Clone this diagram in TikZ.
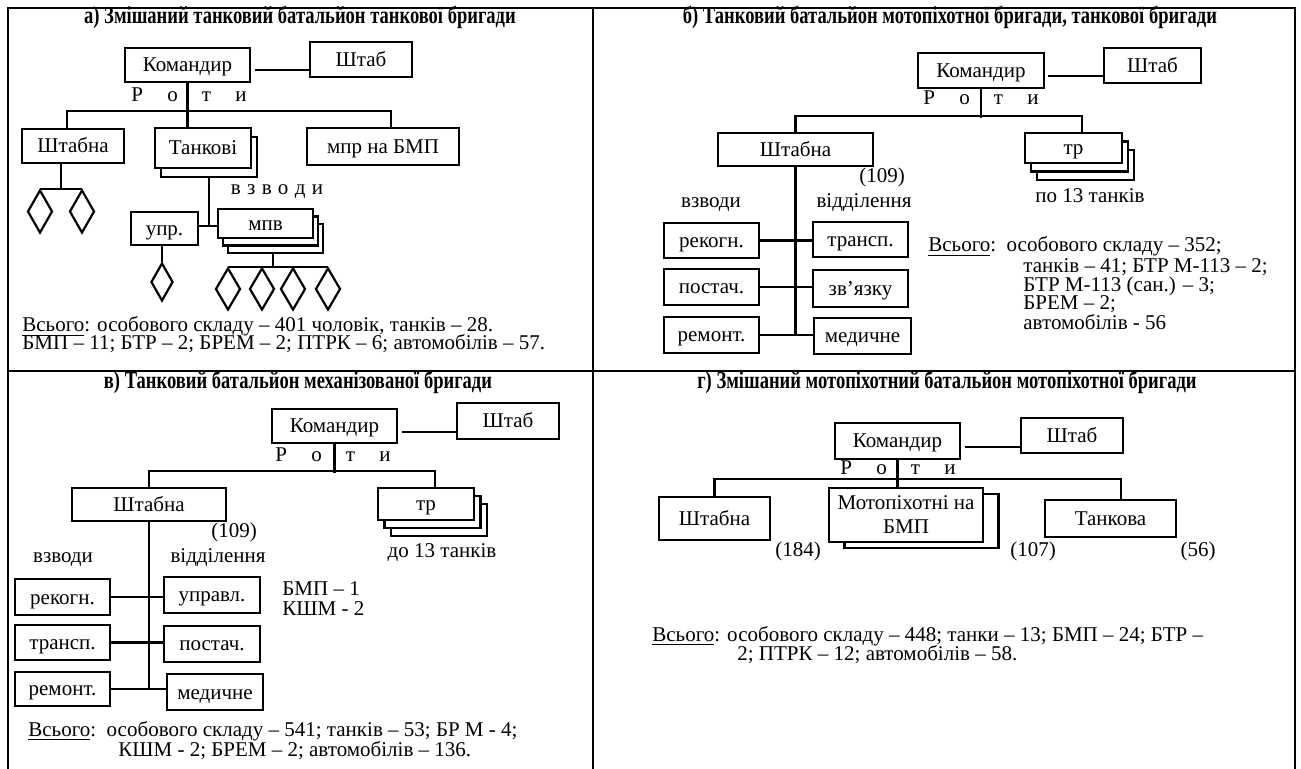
\documentclass[tikz,border=0pt]{standalone}
\usepackage{fontspec}
\setmainfont{Liberation Serif}
\newfontfamily\ttlfont[FakeStretch=0.76]{Liberation Serif}
\usetikzlibrary{shapes.geometric,shadows}
\newcommand{\roty}{Р\hskip1.15em о\hskip1.15em т\hskip1.15em и}
\newcommand{\vzv}{в\hskip.3em з\hskip.3em в\hskip.3em о\hskip.3em д\hskip.3em и}
\begin{document}
\begin{tikzpicture}[x=0.5pt,y=-0.5pt,
  every node/.style={font=\fontsize{10.5}{12}\selectfont, inner sep=0pt, text height=7.2pt, text depth=2.2pt},
  ttl/.style={font=\ttlfont\bfseries\fontsize{12.2}{14}\selectfont},
  bx/.style 2 args={draw, fill=white, line width=1.3pt, text height=8.2pt, text depth=1.2pt, minimum width=#1*0.5pt, minimum height=#2*0.5pt},
  dm/.style 2 args={draw, diamond, line width=1.1pt, minimum width=#1*0.5pt, minimum height=#2*0.5pt},
  stk/.style 2 args={copy shadow={draw=black, fill=white, line width=1.3pt, shadow xshift=#1*0.5pt, shadow yshift=-#2*0.5pt}},
  ln/.style={line width=1.05pt},
  frm/.style={line width=1.4pt}]
\useasboundingbox (0,0) rectangle (1301,769);
\draw[frm] (8,769) -- (8,8) -- (1295,8) -- (1295,769);
\draw[frm] (593,8) -- (593,769);
\draw[frm] (8,371) -- (1295,371);

\node[ttl] (ttlA) at (300,19) {а) Змішаний танковий батальйон танкової бригади};
\node[bx={125}{34}] (komA) at (187.5,65) {Командир};
\node[bx={102}{35}] (shtabA) at (361,59.5) {Штаб};
\node (rotyA) at (189,97) {\roty};
\node[bx={102}{34}] (shtbA) at (73,146) {Штабна};
\node[bx={96}{40}, stk={6}{9}] (tankA) at (203,148) {Танкові};
\node[bx={152}{37}] (mprA) at (383,146.5) {мпр на БМП};
\node[dm={25}{43}] (dA1) at (40,211.5) {};
\node[dm={25}{43}] (dA2) at (82,211.5) {};
\node (vzvA) at (277,190) {\vzv};
\node[bx={67}{33}] (uprA) at (164.5,228.5) {упр.};
\node[bx={95}{29}, stk={10}{15}, stk={5}{7.5}] (mpvA) at (265.5,223.5) {мпв};
\node[dm={22}{38}] (dA3) at (162,282) {};
\node[dm={25}{42}] (dA4) at (228,289) {};
\node[dm={25}{42}] (dA5) at (262,289) {};
\node[dm={25}{42}] (dA6) at (293,289) {};
\node[dm={25}{42}] (dA7) at (328,289) {};
\coordinate (jA1) at (61,190);
\coordinate (tA) at (209,177);
\coordinate (jA2) at (209,226);
\coordinate (mA) at (273,253);
\draw[ln] ([shift={(2pt,-2.5pt)}]komA.east) -- ([yshift=-5.25pt]shtabA.west);
\draw[ln] (komA.south) -- (komA.south |- tankA.north);
\draw[ln] ([xshift=-3pt]shtbA.north) -- ++(0,-17) -| ([xshift=4pt]mprA.north);
\draw[ln] (dA1.north) -- (dA2.north);
\draw[ln] (jA1) -- (jA1 |- shtbA.south);
\draw[ln] (tA) -- (jA2);
\draw[ln] (uprA.east |- jA2) -- (mpvA.west |- jA2);
\draw[ln] (uprA.south -| dA3.north) -- (dA3.north);
\draw[ln] (dA4.north) -- (dA7.north);
\draw[ln] (mA) -- (mA |- dA4.north);
\node[anchor=west] (totA1) at (22,327) {\underline{Всього}: особового складу – 401 чоловік, танків – 28.};
\node[anchor=west] (totA2) at (22,345) {БМП – 11; БТР – 2; БРЕМ – 2; ПТРК – 6; автомобілів – 57.};

\node[ttl] (ttlB) at (950,19) {б) Танковий батальйон мотопіхотної бригади, танкової бригади};
\node[bx={126}{35}] (komB) at (981,70.5) {Командир};
\node[bx={97}{35}] (shtabB) at (1152.5,65.5) {Штаб};
\node (rotyB) at (981,100) {\roty};
\node[bx={155}{33}] (shtbB) at (795.5,149.5) {Штабна};
\node[bx={97}{30}, stk={12}{17}, stk={6}{8.5}] (trB) at (1073.5,148) {тр};
\node (tnkB) at (1090,198) {по 13 танків};
\node (numB) at (882,178) {(109)};
\node (vzvB) at (711,203) {взводи};
\node (vidB) at (864,203) {відділення};
\node[bx={95}{35}] (rekB) at (711.5,240.5) {рекогн.};
\node[bx={95}{36}] (pstB) at (711.5,287) {постач.};
\node[bx={95}{36}] (remB) at (711.5,335) {ремонт.};
\node[bx={95}{35}] (trnB) at (860.5,239.5) {трансп.};
\node[bx={95}{37}] (zvB) at (860.5,288.5) {зв’язку};
\node[bx={97}{36}] (medB) at (862.5,336) {медичне};
\draw[ln] ([shift={(1.5pt,-2.75pt)}]komB.east) -- ([yshift=-5.25pt]shtabB.west);
\draw[ln] (komB.south) -- ++(0,29);
\draw[ln] (shtbB.north) -- ++(0,-16) -| ([xshift=4.25pt]trB.north);
\draw[ln] (shtbB.south) -- (shtbB.south |- remB.east);
\draw[ln] (rekB.east) -- (rekB.east -| trnB.west);
\draw[ln] (pstB.east) -- (pstB.east -| zvB.west);
\draw[ln] (remB.east) -- (remB.east -| medB.west);
\node[anchor=west] (totB1) at (928,247) {\underline{Всього}:\ \ особового складу – 352;};
\node[anchor=west] (totB2) at (1023,268) {танків – 41; БТР М-113 – 2;};
\node[anchor=west] (totB3) at (1023,287) {БТР М-113 (сан.) – 3;};
\node[anchor=west] (totB4) at (1023,305) {БРЕМ – 2;};
\node[anchor=west] (totB5) at (1023,325) {автомобілів - 56};

\node[ttl] (ttlC) at (298,384) {в) Танковий батальйон механізованої бригади};
\node[bx={125}{34}] (komC) at (334.5,426) {Командир};
\node[bx={102}{36}] (shtabC) at (508,421) {Штаб};
\node (rotyC) at (333,457) {\roty};
\node[bx={154}{33}] (shtbC) at (149,504.5) {Штабна};
\node[bx={96}{32}, stk={13}{16}, stk={6.5}{8}] (trC) at (426,504) {тр};
\node (tnkC) at (442,553) {до 13 танків};
\node (numC) at (234,533) {(109)};
\node (vzvC) at (63,558) {взводи};
\node (vidC) at (218,558) {відділення};
\node[bx={95}{36}] (rekC) at (62.5,597) {рекогн.};
\node[bx={95}{35}] (trnC) at (62.5,642.5) {трансп.};
\node[bx={95}{34}] (remC) at (62.5,689) {ремонт.};
\node[bx={96}{36}] (uprC) at (212,595) {управл.};
\node[bx={96}{36}] (pstC) at (212,644) {постач.};
\node[bx={96}{36}] (medC) at (215,692) {медичне};
\draw[ln] ([shift={(2pt,-3pt)}]komC.east) -- ([yshift=-5.5pt]shtabC.west);
\draw[ln] (komC.south) -- ++(0,29);
\draw[ln] (shtbC.north) -- ++(0,-16) -| ([xshift=4.5pt]trC.north);
\draw[ln] (shtbC.south) -- (shtbC.south |- remC.east);
\draw[ln] (rekC.east) -- (rekC.east -| uprC.west);
\draw[ln] (trnC.east) -- (trnC.east -| pstC.west);
\draw[ln] (remC.east) -- (remC.east -| medC.west);
\node[anchor=west] (bmpC) at (282,591) {БМП – 1};
\node[anchor=west] (kshC) at (282,611) {КШМ - 2};
\node[anchor=west] (totC1) at (28,731) {\underline{Всього}:\ \ особового складу – 541; танків – 53; БР М - 4;};
\node[anchor=west] (totC2) at (118,751) {КШМ - 2; БРЕМ – 2; автомобілів – 136.};

\node[ttl] (ttlD) at (947,384) {г) Змішаний мотопіхотний батальйон мотопіхотної бригади};
\node[bx={125}{36}] (komD) at (897.5,441) {Командир};
\node[bx={102}{35}] (shtabD) at (1072,435.5) {Штаб};
\node (rotyD) at (898,470) {\roty};
\node[bx={111}{43}] (shtbD) at (714.5,518.5) {Штабна};
\node[bx={154}{54}, align=center, text height=, text depth=, stk={15.5}{6}] (motD) at (906,515) {Мотопіхотні на\\БМП};
\node[bx={131}{37}] (tnkD) at (1110.5,518.5) {Танкова};
\node (nD1) at (798,552) {(184)};
\node (nD2) at (1033,552) {(107)};
\node (nD3) at (1198,552) {(56)};
\draw[ln] ([shift={(2pt,-3pt)}]komD.east) -- ([yshift=-5.75pt]shtabD.west);
\draw[ln] (komD.south) -- (komD.south |- motD.north);
\draw[ln] (shtbD.north) -- ++(0,-17) -| ([xshift=5.25pt]tnkD.north);
\node[anchor=west] (totD1) at (652,636) {\underline{Всього}: особового складу – 448; танки – 13; БМП – 24; БТР –};
\node[anchor=west] (totD2) at (737,656) {2; ПТРК – 12; автомобілів – 58.};
\end{tikzpicture}
\end{document}
